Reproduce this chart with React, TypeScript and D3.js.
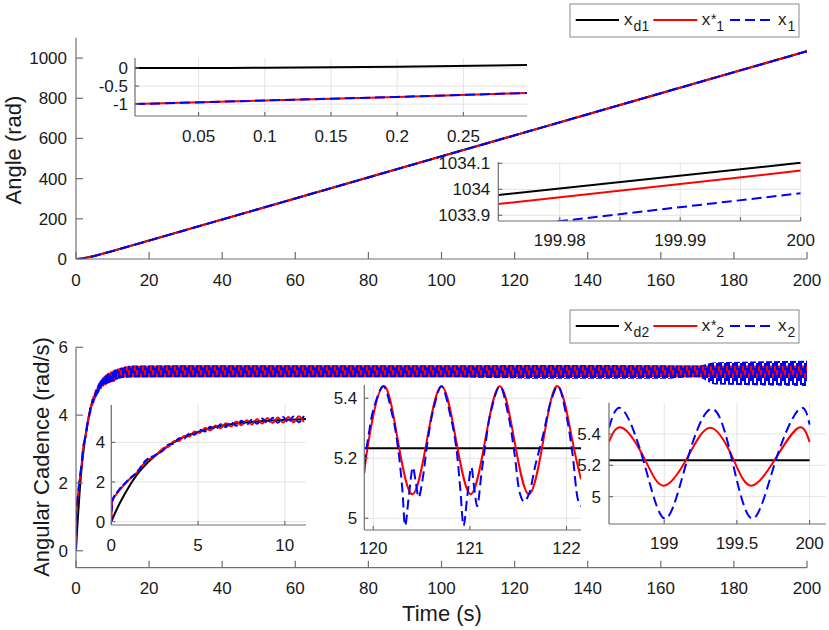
import * as React from "react";
import * as d3 from "d3";

// ---------------- data ----------------
const timeTicks = [0, 20, 40, 60, 80, 100, 120, 140, 160, 180, 200];
const angleTicks = [0, 200, 400, 600, 800, 1000];
const cadenceTicks = [0, 2, 4, 6];

// top panel: angle
const angleTime = [0, 2, 5, 10, 20, 50, 100, 150, 200];
const angleRef = [0, 3.5, 15, 39.5, 91.7, 249, 511, 773, 1034.1];
const angleStar = [-1, 3.1, 14.7, 39.2, 91.5, 248.8, 510.8, 772.8, 1034.07];
const angleMeas = [-1, 3.1, 14.7, 39.2, 91.5, 248.8, 510.8, 772.8, 1033.98];

// top inset, start of run
const angleStartTime = [0.002, 0.1, 0.2, 0.298];
const angleStartRef = [0, 0.01, 0.04, 0.085];
const angleStartStar = [-1.0, -0.9, -0.8, -0.69];
const angleStartMeas = [-1.0, -0.9, -0.8, -0.69];
const angleStartTicksX = [0.05, 0.1, 0.15, 0.2, 0.25];
const angleStartTicksY = [0, -0.5, -1];

// top inset, end of run
const angleEndTime = [199.9749, 200];
const angleEndRef = [1033.978, 1034.102];
const angleEndStar = [1033.943, 1034.072];
const angleEndMeas = [1033.85, 1033.985];
const angleEndTicksX = [199.98, 199.985, 199.99, 199.995, 200];
const angleEndLabelsX = ["199.98", "", "199.99", "", "200"];
const angleEndTicksY = [1033.9, 1034, 1034.1];

// bottom panel: cadence reference x_d2
const cadRefTime = [0, 0.25, 0.5, 1, 1.5, 2, 2.5, 3, 3.5, 4, 5, 6, 7, 8, 9, 10, 11.2, 15, 20, 30, 200];
const cadRef = [0, 0.5, 0.95, 1.74, 2.4, 2.9, 3.3, 3.65, 3.95, 4.2, 4.53, 4.78, 4.93, 5.03, 5.1, 5.15, 5.18, 5.22, 5.233, 5.235, 5.235];

// start-up (0..11 s), read at the wiggle peaks / troughs
const cadRiseTime = [0, 0.05, 0.4, 1.0, 1.5, 2.0, 2.5, 3.0, 3.3, 3.6, 3.9, 4.2, 4.5, 4.8, 5.1, 5.4, 5.7, 6.0, 6.3, 6.6, 6.9, 7.2, 7.5, 7.8, 8.1, 8.4, 8.7, 9.0, 9.3, 9.6, 9.9, 10.2, 10.5, 10.8, 11.1];
const cadRiseStar = [0, 1.0, 1.5, 2.1, 2.5, 3.05, 3.3, 3.71, 3.785, 4.06, 4.075, 4.33, 4.305, 4.55, 4.48, 4.725, 4.61, 4.855, 4.72, 4.97, 4.805, 5.06, 4.87, 5.125, 4.91, 5.18, 4.955, 5.23, 4.98, 5.265, 5.0, 5.29, 5.015, 5.32, 5.03];
const cadRiseMeas = [0, 1.05, 1.55, 2.12, 2.52, 3.1, 3.35, 3.61, 3.895, 3.94, 4.205, 4.19, 4.455, 4.39, 4.64, 4.555, 4.79, 4.665, 4.92, 4.77, 5.015, 4.84, 5.09, 4.895, 5.15, 4.94, 5.205, 4.97, 5.24, 4.995, 5.28, 5.01, 5.305, 5.02, 5.33];

// steady oscillation band (envelopes) after 11 s
const bandTime = [11, 15, 40, 100, 130, 160, 170, 175, 200];
const starBandHi = [5.36, 5.45, 5.46, 5.46, 5.46, 5.46, 5.46, 5.46, 5.46];
const starBandLo = [5.08, 5.12, 5.12, 5.12, 5.12, 5.12, 5.12, 5.1, 5.09];
const measBandHi = [5.33, 5.46, 5.47, 5.47, 5.48, 5.47, 5.46, 5.56, 5.6];
const measBandLo = [5.06, 5.11, 5.12, 5.12, 5.07, 5.07, 5.12, 4.9, 4.86];

// inset 120..122 s
const midStarTime = [119.907, 119.953, 120.103, 120.254, 120.405, 120.555, 120.706, 120.857, 121.008, 121.158, 121.31, 121.46, 121.61, 121.76, 121.91, 122.06, 122.15];
const midStar = [5.15, 5.26, 5.44, 5.26, 5.08, 5.26, 5.44, 5.26, 5.08, 5.26, 5.44, 5.26, 5.08, 5.26, 5.44, 5.26, 5.13];
const midMeasTime = [119.907, 119.953, 120.0, 120.103, 120.2, 120.254, 120.3, 120.33, 120.37, 120.41, 120.44, 120.47, 120.52, 120.555, 120.62, 120.706, 120.8, 120.857, 120.9, 120.935, 120.975, 121.015, 121.045, 121.075, 121.12, 121.158, 121.22, 121.31, 121.4, 121.46, 121.52, 121.56, 121.61, 121.68, 121.76, 121.83, 121.91, 122.0, 122.06, 122.12, 122.15];
const midMeas = [5.18, 5.28, 5.36, 5.44, 5.34, 5.24, 5.1, 4.975, 5.08, 5.17, 5.12, 5.07, 5.15, 5.24, 5.36, 5.44, 5.34, 5.24, 5.1, 4.975, 5.08, 5.17, 5.1, 5.04, 5.15, 5.24, 5.36, 5.44, 5.34, 5.22, 5.08, 5.055, 5.08, 5.18, 5.28, 5.38, 5.44, 5.34, 5.22, 5.06, 5.04];
const midRef = [5.233, 5.233];
const midRefTime = [119.907, 122.15];

// inset 198.6..200 s
const endStarTime = [198.62, 198.71, 198.86, 198.995, 199.16, 199.317, 199.47, 199.6, 199.77, 199.924, 200.0];
const endStar = [5.35, 5.44, 5.25, 5.07, 5.25, 5.44, 5.25, 5.07, 5.25, 5.44, 5.35];
const endMeasTime = [198.62, 198.71, 198.86, 199.007, 199.16, 199.33, 199.47, 199.61, 199.77, 199.93, 200.0];
const endMeas = [5.44, 5.56, 5.22, 4.86, 5.24, 5.56, 5.22, 4.86, 5.24, 5.56, 5.46];
const endRefTime = [198.62, 200.0];
const endRef = [5.233, 5.233];

const legendTopSubs = ["d1", "1", "1"];
const legendBottomSubs = ["d2", "2", "2"];

// ---------------- style ----------------
const W = 829;
const H = 630;
const FONT = "'Liberation Sans', Arial, Helvetica, sans-serif";
const AXIS = "#6f6f6f";
const GRID = "#e4e4e4";
const INK = "#1a1a1a";
const RED = "#ff0000";
const BLUE = "#0000ff";
const DASH = "10,5";

interface Box {
  left: number;
  right: number;
  top: number;
  bottom: number;
}

interface FrameCfg {
  xTicks: number[];
  yTicks: number[];
  xLabels?: string[];
  yLabels?: string[];
  grid: boolean;
  tick: number;
  xGap: number;
  yGap: number;
  white: boolean;
}

type Sel = d3.Selection<any, unknown, null, undefined>;

function frame(svg: Sel, defs: Sel, id: string, box: Box, x: d3.ScaleLinear<number, number>, y: d3.ScaleLinear<number, number>, cfg: FrameCfg) {
  const g = svg.append("g");
  if (cfg.white) {
    g.append("rect")
      .attr("x", box.left)
      .attr("y", box.top)
      .attr("width", box.right - box.left)
      .attr("height", box.bottom - box.top)
      .attr("fill", "#fff");
  }
  if (cfg.grid) {
    const grid = g.append("g").attr("stroke", GRID).attr("stroke-width", 1);
    cfg.xTicks.forEach((t) => {
      grid.append("line").attr("x1", x(t)).attr("x2", x(t)).attr("y1", box.top).attr("y2", box.bottom);
    });
    cfg.yTicks.forEach((t) => {
      grid.append("line").attr("x1", box.left).attr("x2", box.right).attr("y1", y(t)).attr("y2", y(t));
    });
  }
  defs.append("clipPath").attr("id", id)
    .append("rect")
    .attr("x", box.left)
    .attr("y", box.top - 1)
    .attr("width", box.right - box.left)
    .attr("height", box.bottom - box.top + 1);
  const plot = g.append("g").attr("clip-path", `url(#${id})`);

  const ax = g.append("g").attr("stroke", AXIS).attr("stroke-width", 1.2).attr("fill", "none");
  ax.append("line").attr("x1", box.left).attr("x2", box.left).attr("y1", box.top).attr("y2", box.bottom);
  ax.append("line").attr("x1", box.left).attr("x2", box.right).attr("y1", box.bottom).attr("y2", box.bottom);
  cfg.xTicks.forEach((t) => {
    ax.append("line").attr("x1", x(t)).attr("x2", x(t)).attr("y1", box.bottom).attr("y2", box.bottom - cfg.tick);
  });
  cfg.yTicks.forEach((t) => {
    ax.append("line").attr("x1", box.left).attr("x2", box.left + cfg.tick).attr("y1", y(t)).attr("y2", y(t));
  });

  const lab = g.append("g").attr("font-family", FONT).attr("font-size", 17).attr("fill", INK);
  cfg.xTicks.forEach((t, i) => {
    const s = cfg.xLabels ? cfg.xLabels[i] : String(t);
    if (!s) return;
    lab.append("text").attr("x", x(t)).attr("y", box.bottom + cfg.xGap).attr("text-anchor", "middle").text(s);
  });
  cfg.yTicks.forEach((t, i) => {
    const s = cfg.yLabels ? cfg.yLabels[i] : String(t);
    lab.append("text").attr("x", box.left - cfg.yGap).attr("y", y(t)).attr("dy", "0.35em").attr("text-anchor", "end").text(s);
  });
  return plot;
}

function addLine(plot: Sel, x: d3.ScaleLinear<number, number>, y: d3.ScaleLinear<number, number>, t: number[], v: number[], color: string, dash?: string, curve: d3.CurveFactory = d3.curveLinear) {
  const line = d3.line<number>()
    .x((_, i) => x(t[i]))
    .y((d) => y(d))
    .curve(curve);
  plot.append("path")
    .datum(v)
    .attr("d", line)
    .attr("fill", "none")
    .attr("stroke", color)
    .attr("stroke-width", 2)
    .attr("stroke-dasharray", dash || null)
    .attr("stroke-linejoin", "round");
}

function legend(svg: Sel, left: number, top: number, subs: string[]) {
  const g = svg.append("g");
  g.append("rect")
    .attr("x", left)
    .attr("y", top)
    .attr("width", 229)
    .attr("height", 33)
    .attr("fill", "#fff")
    .attr("stroke", "#8a8a8a")
    .attr("stroke-width", 1);
  const ly = top + 16;
  const items = [
    { a: 5.7, b: 49, c: "#000", dash: "", tx: 54, star: false },
    { a: 83.3, b: 127.3, c: RED, dash: "", tx: 131.7, star: true },
    { a: 160, b: 204.3, c: BLUE, dash: DASH, tx: 208, star: false },
  ];
  items.forEach((it, i) => {
    g.append("line")
      .attr("x1", left + it.a)
      .attr("x2", left + it.b)
      .attr("y1", ly)
      .attr("y2", ly)
      .attr("stroke", it.c)
      .attr("stroke-width", 2)
      .attr("stroke-dasharray", it.dash || null);
    const tx = left + it.tx;
    g.append("text").attr("x", tx).attr("y", top + 21).attr("font-family", FONT).attr("font-size", 17).attr("fill", INK).text("x");
    if (it.star) {
      g.append("text").attr("x", tx + 9.3).attr("y", top + 19.5).attr("font-family", FONT).attr("font-size", 14).attr("fill", INK).text("*");
    }
    g.append("text")
      .attr("x", tx + (it.star ? 14.5 : 9.6))
      .attr("y", top + 27)
      .attr("font-family", FONT)
      .attr("font-size", 14)
      .attr("fill", INK)
      .text(subs[i]);
  });
}

function draw(svg: Sel) {
  svg.append("rect").attr("width", W).attr("height", H).attr("fill", "#fff");
  const defs = svg.append("defs");

  // texture for the dashed blue line drawn densely over the red one:
  // 2px columns, each a 10px blue dash with a different phase
  const pat = defs.append("pattern")
    .attr("id", "measBand")
    .attr("patternUnits", "userSpaceOnUse")
    .attr("width", 8)
    .attr("height", 15);
  [0, 8, 3, 11].forEach((off, k) => {
    const end = off + 10;
    pat.append("rect").attr("x", k * 2).attr("y", off).attr("width", 2).attr("height", Math.min(end, 15) - off).attr("fill", BLUE);
    if (end > 15) {
      pat.append("rect").attr("x", k * 2).attr("y", 0).attr("width", 2).attr("height", end - 15).attr("fill", BLUE);
    }
  });

  // ===== top panel =====
  const topBox = { left: 76, right: 807, top: 38, bottom: 259 };
  const xTop = d3.scaleLinear().domain([0, 200]).range([topBox.left, topBox.right]);
  const yTop = d3.scaleLinear().domain([0, 1100]).range([topBox.bottom, topBox.top]);
  const pTop = frame(svg, defs, "cTop", topBox, xTop, yTop, {
    xTicks: timeTicks, yTicks: angleTicks, grid: false, tick: 7, xGap: 27, yGap: 9, white: false,
  });
  addLine(pTop, xTop, yTop, angleTime, angleRef, "#000");
  addLine(pTop, xTop, yTop, angleTime, angleStar, RED);
  addLine(pTop, xTop, yTop, angleTime, angleMeas, BLUE, DASH);

  svg.append("text")
    .attr("transform", "translate(21,150) rotate(-90)")
    .attr("text-anchor", "middle")
    .attr("font-family", FONT)
    .attr("font-size", 22)
    .attr("fill", INK)
    .text("Angle (rad)");

  // inset: start
  const taBox = { left: 135, right: 527, top: 58, bottom: 116 };
  const xTa = d3.scaleLinear().domain([0.002, 0.298]).range([taBox.left, taBox.right]);
  const yTa = d3.scaleLinear().domain([-1.33, 0.28]).range([taBox.bottom, taBox.top]);
  const pTa = frame(svg, defs, "cTa", taBox, xTa, yTa, {
    xTicks: angleStartTicksX, yTicks: angleStartTicksY, grid: true, tick: 4, xGap: 26, yGap: 7, white: true,
  });
  addLine(pTa, xTa, yTa, angleStartTime, angleStartRef, "#000", undefined, d3.curveMonotoneX);
  addLine(pTa, xTa, yTa, angleStartTime, angleStartStar, RED);
  addLine(pTa, xTa, yTa, angleStartTime, angleStartMeas, BLUE, DASH);

  // inset: end
  const tbBox = { left: 498.3, right: 800.7, top: 162.3, bottom: 221 };
  const xTb = d3.scaleLinear().domain([199.9749, 200]).range([tbBox.left, tbBox.right]);
  const yTb = d3.scaleLinear().domain([1033.878, 1034.104]).range([tbBox.bottom, tbBox.top]);
  const pTb = frame(svg, defs, "cTb", tbBox, xTb, yTb, {
    xTicks: angleEndTicksX, xLabels: angleEndLabelsX, yTicks: angleEndTicksY, grid: true, tick: 4, xGap: 25, yGap: 8, white: true,
  });
  addLine(pTb, xTb, yTb, angleEndTime, angleEndRef, "#000");
  addLine(pTb, xTb, yTb, angleEndTime, angleEndStar, RED);
  addLine(pTb, xTb, yTb, angleEndTime, angleEndMeas, BLUE, DASH);

  legend(svg, 570, 4, legendTopSubs);

  // ===== bottom panel =====
  const botBox = { left: 76, right: 807, top: 347.3, bottom: 567.7 };
  const xBot = d3.scaleLinear().domain([0, 200]).range([botBox.left, botBox.right]);
  const yBot = d3.scaleLinear().domain([-0.5, 6]).range([botBox.bottom, botBox.top]);
  const pBot = frame(svg, defs, "cBot", botBox, xBot, yBot, {
    xTicks: timeTicks, yTicks: cadenceTicks, grid: false, tick: 7, xGap: 26, yGap: 8, white: false,
  });
  addLine(pBot, xBot, yBot, cadRefTime, cadRef, "#000", undefined, d3.curveMonotoneX);
  addLine(pBot, xBot, yBot, cadRiseTime, cadRiseStar, RED);
  const band = (lo: number[]) => d3.area<number>()
    .x((_, i) => xBot(bandTime[i]))
    .y0((_, i) => yBot(lo[i]))
    .y1((d) => yBot(d))
    .curve(d3.curveMonotoneX);
  pBot.append("path").datum(starBandHi).attr("d", band(starBandLo)).attr("fill", RED);
  addLine(pBot, xBot, yBot, cadRiseTime, cadRiseMeas, BLUE, DASH);
  pBot.append("path").datum(measBandHi).attr("d", band(measBandLo)).attr("fill", "url(#measBand)");

  svg.append("text")
    .attr("transform", "translate(49,457) rotate(-90)")
    .attr("text-anchor", "middle")
    .attr("font-family", FONT)
    .attr("font-size", 22)
    .attr("fill", INK)
    .text("Angular Cadence (rad/s)");
  svg.append("text")
    .attr("x", 442)
    .attr("y", 621)
    .attr("text-anchor", "middle")
    .attr("font-family", FONT)
    .attr("font-size", 22)
    .attr("fill", INK)
    .text("Time (s)");

  // inset: 0..11 s
  const baBox = { left: 111.3, right: 306, top: 405, bottom: 525 };
  const xBa = d3.scaleLinear().domain([0, 11.22]).range([baBox.left, baBox.right]);
  const yBa = d3.scaleLinear().domain([-0.17, 5.89]).range([baBox.bottom, baBox.top]);
  const pBa = frame(svg, defs, "cBa", baBox, xBa, yBa, {
    xTicks: [0, 5, 10], yTicks: [0, 2, 4], grid: true, tick: 4, xGap: 26, yGap: 6, white: true,
  });
  addLine(pBa, xBa, yBa, cadRefTime, cadRef, "#000", undefined, d3.curveMonotoneX);
  addLine(pBa, xBa, yBa, cadRiseTime, cadRiseStar, RED, undefined, d3.curveMonotoneX);
  addLine(pBa, xBa, yBa, cadRiseTime, cadRiseMeas, BLUE, "7,3", d3.curveMonotoneX);

  // inset: 120..122 s
  const bbBox = { left: 364.3, right: 581, top: 385, bottom: 530 };
  const xBb = d3.scaleLinear().domain([119.907, 122.15]).range([bbBox.left, bbBox.right]);
  const yBb = d3.scaleLinear().domain([4.961, 5.444]).range([bbBox.bottom, bbBox.top]);
  const pBb = frame(svg, defs, "cBb", bbBox, xBb, yBb, {
    xTicks: [120, 121, 122], yTicks: [5, 5.2, 5.4], grid: true, tick: 4, xGap: 24, yGap: 7, white: true,
  });
  addLine(pBb, xBb, yBb, midRefTime, midRef, "#000");
  addLine(pBb, xBb, yBb, midStarTime, midStar, RED, undefined, d3.curveNatural);
  addLine(pBb, xBb, yBb, midMeasTime, midMeas, BLUE, DASH, d3.curveCatmullRom);

  // inset: 198.6..200 s
  const bcBox = { left: 609, right: 826, top: 402.7, bottom: 524 };
  const xBc = d3.scaleLinear().domain([198.62, 200.113]).range([bcBox.left, bcBox.right]);
  const yBc = d3.scaleLinear().domain([4.825, 5.6]).range([bcBox.bottom, bcBox.top]);
  const pBc = frame(svg, defs, "cBc", bcBox, xBc, yBc, {
    xTicks: [199, 199.5, 200], yTicks: [5, 5.2, 5.4], grid: true, tick: 4, xGap: 25, yGap: 8, white: true,
  });
  addLine(pBc, xBc, yBc, endRefTime, endRef, "#000");
  addLine(pBc, xBc, yBc, endStarTime, endStar, RED, undefined, d3.curveNatural);
  addLine(pBc, xBc, yBc, endMeasTime, endMeas, BLUE, DASH, d3.curveNatural);

  legend(svg, 570, 310, legendBottomSubs);
}

export default function App() {
  const ref = React.useRef<SVGSVGElement>(null);

  React.useEffect(() => {
    const svg = d3.select(ref.current as SVGSVGElement);
    svg.selectAll("*").remove();
    draw(svg as unknown as Sel);
  }, []);

  return (
    <svg
      ref={ref}
      width={W}
      height={H}
      viewBox={`0 0 ${W} ${H}`}
      style={{ position: "absolute", left: 0, top: 0, display: "block" }}
    />
  );
}
